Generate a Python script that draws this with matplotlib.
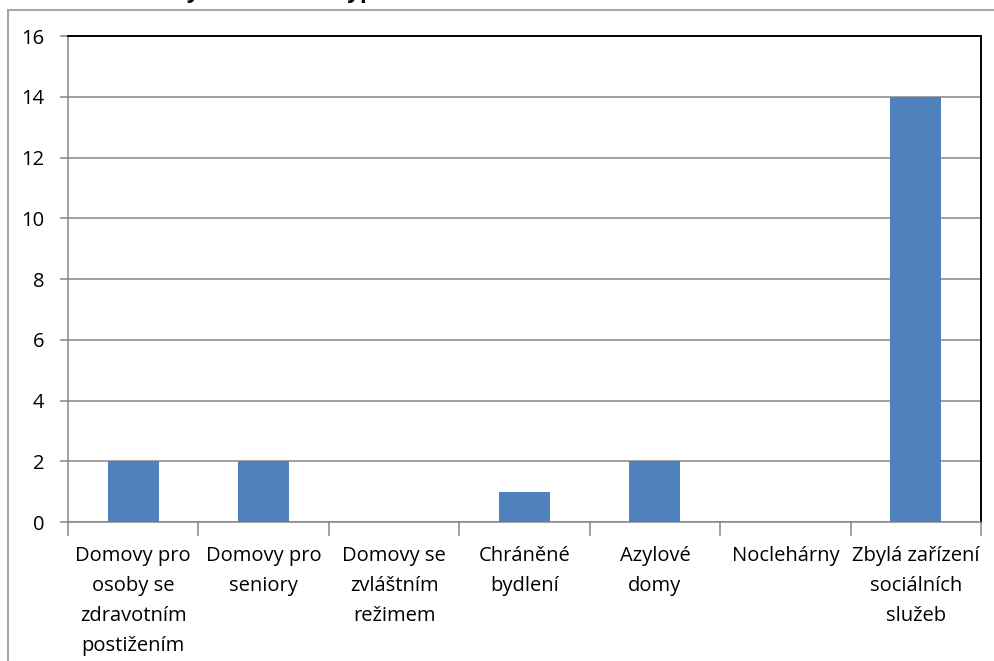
import matplotlib
matplotlib.use("Agg")
import matplotlib.pyplot as plt
from matplotlib.patches import Rectangle

categories = [
    "Domovy pro\nosoby se\nzdravotním\npostižením",
    "Domovy pro\nseniory",
    "Domovy se\nzvláštním\nrežimem",
    "Chráněné\nbydlení",
    "Azylové\ndomy",
    "Noclehárny",
    "Zbylá zařízení\nsociálních\nslužeb",
]
values = [2, 2, 0, 1, 2, 0, 14]
yticks = [0, 2, 4, 6, 8, 10, 12, 14, 16]

plt.rcParams['font.family'] = ['Open Sans', 'DejaVu Sans']

W, H = 994, 661
fig = plt.figure(figsize=(W / 100, H / 100), dpi=100)
ax = fig.add_axes([68 / W, 1 - 522 / H, (981 - 68) / W, (522 - 36) / H])

# outer chart frame (cut off by the image edge)
fig.patches.append(Rectangle((8 / W, -0.1), 1.2, 1 - 10 / H + 0.1,
                             transform=fig.transFigure, fill=False,
                             edgecolor='#a6a6a6', linewidth=1.5))

# title: only its descenders are visible at the top of the image
fig.text(138 / W, 1 + 2 / H, "Počty zařízení dle typu", fontsize=16,
         fontweight='bold', va='baseline', ha='left')

x = list(range(len(categories)))
ax.bar(x, values, width=0.39, color='#4f81bd', zorder=3)

ax.set_xlim(-0.5, len(categories) - 0.5)
ax.set_ylim(0, 16)
ax.set_yticks(yticks)
ax.set_yticklabels([str(v) for v in yticks])
ax.yaxis.grid(True, color='#868686', linewidth=1.1, zorder=0)

# x ticks at category boundaries, labels at centres
ax.set_xticks([i - 0.5 for i in range(len(categories) + 1)])
ax.set_xticklabels([])
ax.tick_params(axis='x', length=10, width=1.1, color='#868686')
ax.tick_params(axis='y', length=6, width=1.1, color='#868686',
               pad=11, labelsize=14.5)
for i, lab in enumerate(categories):
    ax.text(i, -0.8, lab, ha='center', va='top', fontsize=14.5,
            linespacing=1.65, transform=ax.transData)

for side in ('left', 'bottom'):
    ax.spines[side].set_color('#868686')
    ax.spines[side].set_linewidth(1.1)
for side in ('top', 'right'):
    ax.spines[side].set_color('black')
    ax.spines[side].set_linewidth(1.4)

fig.savefig("out.png", dpi=100)
